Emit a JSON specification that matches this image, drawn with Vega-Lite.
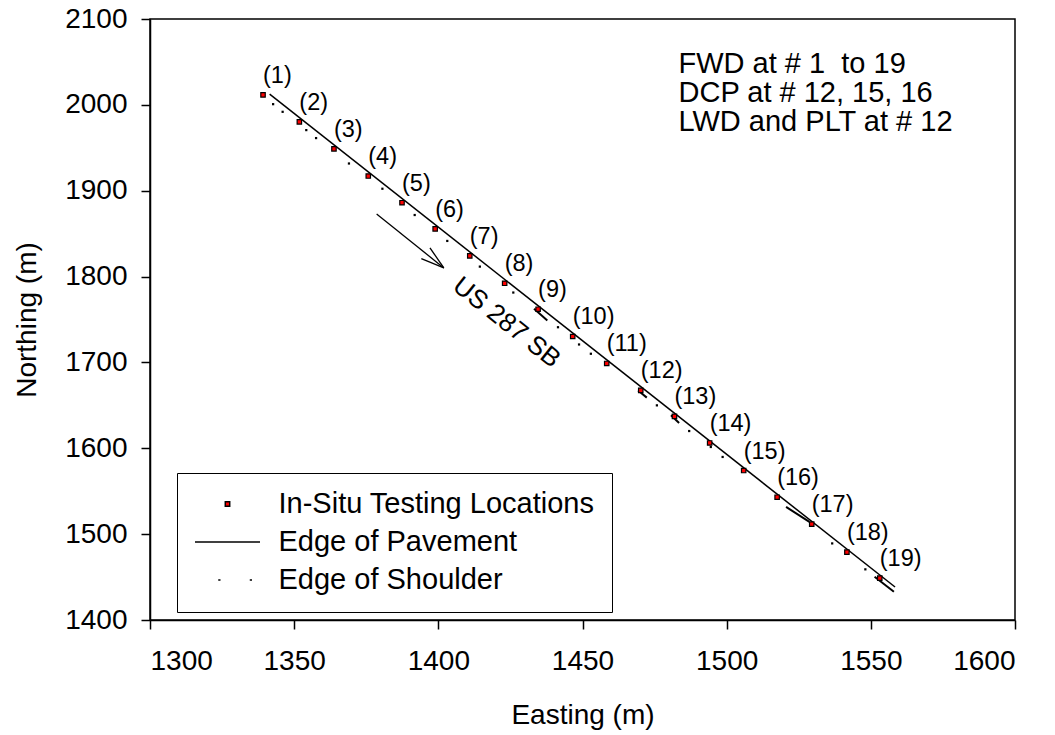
{
  "$schema": "https://vega.github.io/schema/vega-lite/v6.json",
  "width": 865,
  "height": 601,
  "autosize": "none",
  "padding": {"left": 150, "top": 19, "right": 40, "bottom": 115},
  "background": "white",
  "config": {
    "font": "Liberation Sans",
    "view": {"stroke": "black", "strokeWidth": 1.5},
    "axis": {
      "grid": false,
      "domainColor": "black",
      "domainWidth": 1.5,
      "tickColor": "black",
      "tickWidth": 1.5,
      "tickSize": 9,
      "labelFont": "Liberation Sans",
      "labelFontSize": 28,
      "labelColor": "black",
      "titleFont": "Liberation Sans",
      "titleFontSize": 28,
      "titleFontWeight": "normal",
      "titleColor": "black"
    }
  },
  "datasets": {
    "sites": [
      {"id": 1, "lab": "(1)", "E": 1339.2, "N": 2011.6, "series": "In-Situ Testing Locations"},
      {"id": 2, "lab": "(2)", "E": 1351.8, "N": 1980.2, "series": "In-Situ Testing Locations"},
      {"id": 3, "lab": "(3)", "E": 1363.8, "N": 1948.8, "series": "In-Situ Testing Locations"},
      {"id": 4, "lab": "(4)", "E": 1375.7, "N": 1917.1, "series": "In-Situ Testing Locations"},
      {"id": 5, "lab": "(5)", "E": 1387.4, "N": 1886.0, "series": "In-Situ Testing Locations"},
      {"id": 6, "lab": "(6)", "E": 1398.9, "N": 1855.5, "series": "In-Situ Testing Locations"},
      {"id": 7, "lab": "(7)", "E": 1410.9, "N": 1824.1, "series": "In-Situ Testing Locations"},
      {"id": 8, "lab": "(8)", "E": 1423.0, "N": 1792.2, "series": "In-Situ Testing Locations"},
      {"id": 9, "lab": "(9)", "E": 1434.6, "N": 1762.0, "series": "In-Situ Testing Locations"},
      {"id": 10, "lab": "(10)", "E": 1446.6, "N": 1730.2, "series": "In-Situ Testing Locations"},
      {"id": 11, "lab": "(11)", "E": 1458.4, "N": 1698.8, "series": "In-Situ Testing Locations"},
      {"id": 12, "lab": "(12)", "E": 1470.2, "N": 1667.4, "series": "In-Situ Testing Locations"},
      {"id": 13, "lab": "(13)", "E": 1481.9, "N": 1637.2, "series": "In-Situ Testing Locations"},
      {"id": 14, "lab": "(14)", "E": 1494.1, "N": 1606.2, "series": "In-Situ Testing Locations"},
      {"id": 15, "lab": "(15)", "E": 1505.9, "N": 1574.1, "series": "In-Situ Testing Locations"},
      {"id": 16, "lab": "(16)", "E": 1517.5, "N": 1543.0, "series": "In-Situ Testing Locations"},
      {"id": 17, "lab": "(17)", "E": 1529.5, "N": 1511.6, "series": "In-Situ Testing Locations"},
      {"id": 18, "lab": "(18)", "E": 1541.7, "N": 1479.1, "series": "In-Situ Testing Locations"},
      {"id": 19, "lab": "(19)", "E": 1553.1, "N": 1448.8, "series": "In-Situ Testing Locations"}
    ],
    "pavement": [
      {"E": 1341.5, "N": 2012.4},
      {"E": 1558.4, "N": 1438.4}
    ],
    "shoulderDots": [
      {"E": 1342.7, "N": 2000.8},
      {"E": 1346.0, "N": 1991.9},
      {"E": 1354.2, "N": 1970.6},
      {"E": 1357.6, "N": 1961.3},
      {"E": 1369.0, "N": 1931.7},
      {"E": 1380.6, "N": 1902.3},
      {"E": 1391.8, "N": 1871.7},
      {"E": 1403.1, "N": 1841.5},
      {"E": 1414.4, "N": 1811.6},
      {"E": 1426.0, "N": 1781.4},
      {"E": 1441.5, "N": 1741.0},
      {"E": 1448.8, "N": 1720.9},
      {"E": 1452.9, "N": 1710.1},
      {"E": 1475.8, "N": 1650.0},
      {"E": 1487.0, "N": 1620.1},
      {"E": 1494.5, "N": 1601.5},
      {"E": 1498.6, "N": 1589.9},
      {"E": 1536.6, "N": 1489.2},
      {"E": 1548.1, "N": 1459.0}
    ],
    "shoulderDashes": [
      {"E": 1433.2, "N": 1762.4, "E2": 1437.8, "N2": 1748.8},
      {"E": 1469.3, "N": 1667.4, "E2": 1472.3, "N2": 1659.0},
      {"E": 1480.7, "N": 1638.4, "E2": 1483.5, "N2": 1629.4},
      {"E": 1520.6, "N": 1531.7, "E2": 1528.7, "N2": 1514.3},
      {"E": 1551.3, "N": 1450.3, "E2": 1558.0, "N2": 1432.9}
    ],
    "arrow": [
      {"E": 1378.6, "N": 1872.9, "E2": 1401.9, "N2": 1810.1},
      {"E": 1397.1, "N": 1833.4, "E2": 1401.9, "N2": 1810.1},
      {"E": 1394.1, "N": 1820.9, "E2": 1401.9, "N2": 1810.1}
    ],
    "road": [
      {"E": 1423.7, "N": 1746.5, "name": "US 287 SB"}
    ],
    "notes": [
      {"E": 1483.3, "N": 2036.7, "text": "FWD at # 1\u00a0 to 19\nDCP at # 12, 15, 16\nLWD and PLT at # 12"}
    ]
  },
  "layer": [
    {
      "data": {"name": "pavement"},
      "mark": {"type": "line", "color": "black", "strokeWidth": 1.5},
      "encoding": {
        "x": {
          "field": "E",
          "type": "quantitative",
          "scale": {"domain": [1300, 1600], "nice": false, "zero": false},
          "axis": {
            "title": "Easting (m)",
            "values": [1300, 1350, 1400, 1450, 1500, 1550, 1600],
            "format": "d",
            "labelPadding": 18,
            "titlePadding": 26
          }
        },
        "y": {
          "field": "N",
          "type": "quantitative",
          "scale": {"domain": [1400, 2100], "nice": false, "zero": false},
          "axis": {
            "title": "Northing (m)",
            "values": [1400, 1500, 1600, 1700, 1800, 1900, 2000, 2100],
            "format": "d",
            "labelPadding": 14,
            "titlePadding": 23
          }
        }
      }
    },
    {
      "data": {"name": "shoulderDots"},
      "mark": {"type": "point", "shape": "square", "filled": true, "color": "black", "size": 5, "opacity": 1},
      "encoding": {
        "x": {"field": "E", "type": "quantitative"},
        "y": {"field": "N", "type": "quantitative"}
      }
    },
    {
      "data": {"name": "shoulderDashes"},
      "mark": {"type": "rule", "color": "black", "strokeWidth": 2},
      "encoding": {
        "x": {"field": "E", "type": "quantitative"},
        "y": {"field": "N", "type": "quantitative"},
        "x2": {"field": "E2"},
        "y2": {"field": "N2"}
      }
    },
    {
      "data": {"name": "arrow"},
      "mark": {"type": "rule", "color": "black", "strokeWidth": 1.3},
      "encoding": {
        "x": {"field": "E", "type": "quantitative"},
        "y": {"field": "N", "type": "quantitative"},
        "x2": {"field": "E2"},
        "y2": {"field": "N2"}
      }
    },
    {
      "data": {"name": "sites"},
      "mark": {"type": "point", "filled": true, "stroke": "black", "strokeWidth": 1.2, "size": 4225, "opacity": 1},
      "encoding": {
        "x": {"field": "E", "type": "quantitative"},
        "y": {"field": "N", "type": "quantitative"},
        "fill": {
          "field": "series",
          "type": "nominal",
          "scale": {
            "domain": ["In-Situ Testing Locations", "Edge of Pavement", "Edge of Shoulder"],
            "range": ["#ff0000", "#000000", "#000000"]
          },
          "legend": {
            "title": null,
            "orient": "none",
            "legendX": 27,
            "legendY": 454,
            "direction": "vertical",
            "padding": 17,
            "strokeColor": "black",
            "fillColor": "white",
            "symbolSize": 4225,
            "clipHeight": 28,
            "rowPadding": 9,
            "labelFont": "Liberation Sans",
            "labelFontSize": 29,
            "labelColor": "black",
            "labelOffset": 17.5,
            "labelLimit": 600,
            "encode": {
              "symbols": {
                "update": {
                  "stroke": {"value": "black"},
                  "strokeWidth": {"value": 1.5},
                  "opacity": {"value": 1}
                }
              }
            }
          }
        },
        "shape": {
          "field": "series",
          "type": "nominal",
          "scale": {
            "domain": ["In-Situ Testing Locations", "Edge of Pavement", "Edge of Shoulder"],
            "range": [
              "M-0.068,-0.068H0.068V0.068H-0.068Z",
              "M-1,0H1",
              "M-0.285,0H-0.215M0.685,0H0.755"
            ]
          },
          "legend": {
            "title": null,
            "orient": "none",
            "legendX": 27,
            "legendY": 454,
            "direction": "vertical",
            "padding": 17,
            "strokeColor": "black",
            "fillColor": "white",
            "symbolSize": 4225,
            "clipHeight": 28,
            "rowPadding": 9,
            "labelFont": "Liberation Sans",
            "labelFontSize": 29,
            "labelColor": "black",
            "labelOffset": 17.5,
            "labelLimit": 600,
            "encode": {
              "symbols": {
                "update": {
                  "stroke": {"value": "black"},
                  "strokeWidth": {"value": 1.5},
                  "opacity": {"value": 1}
                }
              }
            }
          }
        }
      }
    },
    {
      "data": {"name": "sites"},
      "mark": {"type": "text", "align": "left", "baseline": "alphabetic", "dx": 0, "dy": -12, "fontSize": 23.5, "font": "Liberation Sans", "color": "black"},
      "encoding": {
        "x": {"field": "E", "type": "quantitative"},
        "y": {"field": "N", "type": "quantitative"},
        "text": {"field": "lab"}
      }
    },
    {
      "data": {"name": "road"},
      "mark": {"type": "text", "align": "center", "baseline": "middle", "angle": 38.5, "fontSize": 26, "font": "Liberation Sans", "color": "black"},
      "encoding": {
        "x": {"field": "E", "type": "quantitative"},
        "y": {"field": "N", "type": "quantitative"},
        "text": {"field": "name"}
      }
    },
    {
      "data": {"name": "notes"},
      "mark": {"type": "text", "align": "left", "baseline": "alphabetic", "lineBreak": "\n", "lineHeight": 29, "fontSize": 29, "font": "Liberation Sans", "color": "black"},
      "encoding": {
        "x": {"field": "E", "type": "quantitative"},
        "y": {"field": "N", "type": "quantitative"},
        "text": {"field": "text"}
      }
    }
  ]
}
